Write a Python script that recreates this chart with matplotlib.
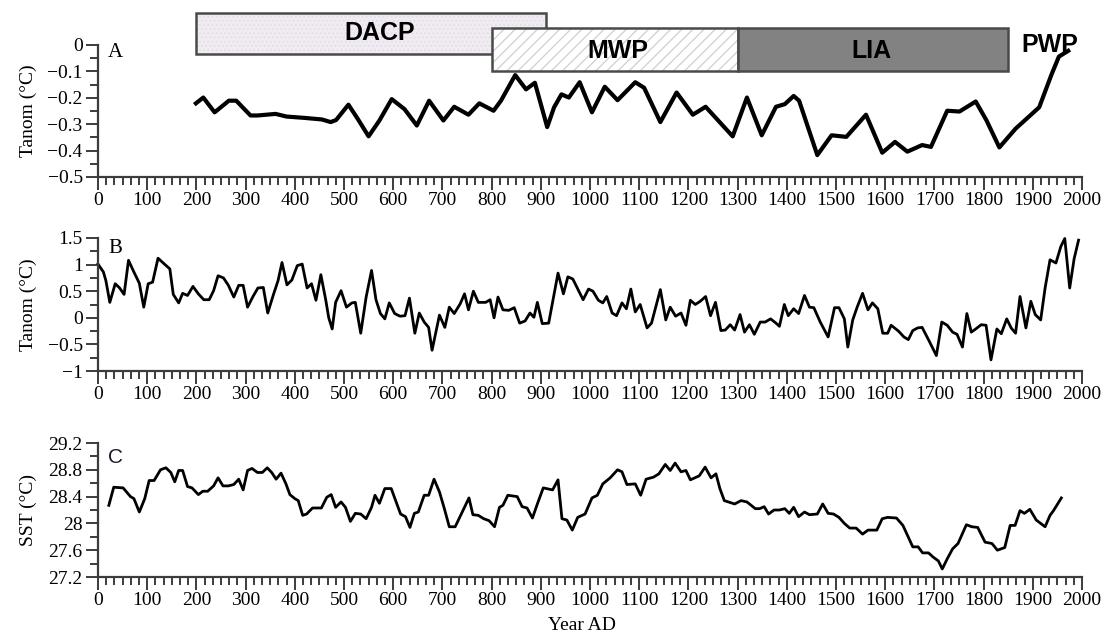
import matplotlib
matplotlib.use("Agg")
import matplotlib.pyplot as plt
from matplotlib.patches import Rectangle
from matplotlib.ticker import MultipleLocator, AutoMinorLocator

# ---------------- data ----------------
a_year = [199, 214, 237, 266, 281, 310, 324, 361, 383, 419, 455, 473, 484, 509, 528, 550,
          572, 597, 623, 648, 673, 702, 724, 753, 775, 804, 819, 848, 870, 888, 913, 927,
          942, 957, 979, 1004, 1030, 1056, 1092, 1110, 1143, 1176, 1209, 1235, 1290, 1319,
          1349, 1378, 1396, 1414, 1425, 1462, 1491, 1521, 1561, 1594, 1620, 1645, 1675,
          1693, 1726, 1751, 1784, 1806, 1832, 1865, 1913, 1938, 1953, 1972]
a_tanom = [-0.221, -0.199, -0.255, -0.211, -0.211, -0.267, -0.267, -0.261, -0.271, -0.276,
           -0.282, -0.292, -0.284, -0.226, -0.280, -0.346, -0.286, -0.205, -0.243, -0.305,
           -0.211, -0.286, -0.234, -0.264, -0.221, -0.249, -0.211, -0.114, -0.168, -0.143,
           -0.311, -0.236, -0.187, -0.199, -0.141, -0.255, -0.158, -0.209, -0.141, -0.162,
           -0.292, -0.180, -0.264, -0.234, -0.346, -0.199, -0.342, -0.234, -0.224, -0.193,
           -0.211, -0.417, -0.342, -0.348, -0.264, -0.408, -0.367, -0.404, -0.379, -0.386,
           -0.249, -0.252, -0.214, -0.286, -0.388, -0.317, -0.236, -0.112, -0.044, -0.022]

b_year = [0, 11, 16, 24, 35, 44, 53, 62, 73, 84, 93, 102, 111, 122, 135, 146, 153, 164, 172,
          182, 193, 204, 215, 226, 235, 244, 255, 265, 276, 286, 295, 304, 315, 325, 336, 345,
          356, 366, 374, 384, 394, 405, 415, 425, 434, 443, 453, 463, 469, 476, 483, 494, 505,
          516, 523, 534, 545, 556, 565, 574, 583, 592, 603, 614, 624, 633, 644, 653, 663, 672,
          679, 694, 705, 714, 724, 736, 745, 753, 763, 773, 788, 797, 805, 813, 823, 835, 846,
          857, 868, 878, 886, 893, 903, 916, 926, 935, 946, 955, 965, 986, 997, 1006, 1017,
          1026, 1034, 1045, 1054, 1065, 1074, 1083, 1092, 1102, 1116, 1125, 1143, 1154, 1163,
          1174, 1185, 1195, 1204, 1214, 1224, 1235, 1245, 1255, 1266, 1275, 1285, 1294, 1305,
          1314, 1324, 1334, 1346, 1356, 1367, 1378, 1385, 1395, 1403, 1414, 1424, 1436, 1446,
          1455, 1468, 1484, 1497, 1506, 1517, 1524, 1534, 1543, 1554, 1565, 1574, 1585, 1595,
          1605, 1612, 1627, 1638, 1647, 1656, 1666, 1675, 1689, 1704, 1715, 1726, 1737, 1746,
          1757, 1766, 1775, 1784, 1795, 1805, 1815, 1827, 1836, 1847, 1856, 1865, 1874, 1886,
          1896, 1905, 1916, 1925, 1935, 1947, 1957, 1965, 1975, 1984, 1993]
b_tanom = [1.01, 0.86, 0.70, 0.29, 0.64, 0.56, 0.44, 1.08, 0.86, 0.65, 0.20, 0.64, 0.67, 1.12,
           1.01, 0.92, 0.44, 0.28, 0.46, 0.42, 0.59, 0.45, 0.34, 0.34, 0.51, 0.79, 0.75, 0.61,
           0.39, 0.61, 0.61, 0.20, 0.40, 0.56, 0.57, 0.09, 0.42, 0.70, 1.04, 0.62, 0.71, 0.98,
           1.01, 0.56, 0.64, 0.33, 0.81, 0.33, 0.00, -0.21, 0.29, 0.51, 0.20, 0.28, 0.29,
           -0.29, 0.39, 0.89, 0.34, 0.08, -0.02, 0.28, 0.08, 0.03, 0.04, 0.37, -0.29, 0.09,
           -0.08, -0.18, -0.61, 0.05, -0.18, 0.20, 0.08, 0.26, 0.45, 0.15, 0.50, 0.29, 0.29,
           0.34, 0.00, 0.39, 0.15, 0.14, 0.19, -0.10, -0.06, 0.09, 0.01, 0.29, -0.11, -0.10,
           0.39, 0.84, 0.45, 0.77, 0.73, 0.34, 0.54, 0.50, 0.33, 0.28, 0.40, 0.09, 0.04, 0.28,
           0.17, 0.54, 0.11, 0.25, -0.19, -0.10, 0.53, -0.04, 0.20, 0.03, 0.09, -0.14, 0.33,
           0.25, 0.31, 0.40, 0.04, 0.29, -0.24, -0.23, -0.13, -0.23, 0.06, -0.27, -0.13, -0.31,
           -0.08, -0.08, -0.02, -0.10, -0.16, 0.25, 0.04, 0.17, 0.08, 0.42, 0.20, 0.19, -0.08,
           -0.36, 0.19, 0.19, -0.02, -0.55, -0.04, 0.20, 0.46, 0.15, 0.28, 0.17, -0.29, -0.29,
           -0.14, -0.25, -0.36, -0.41, -0.24, -0.19, -0.18, -0.43, -0.71, -0.08, -0.14, -0.27,
           -0.31, -0.55, 0.08, -0.27, -0.21, -0.13, -0.14, -0.79, -0.21, -0.30, -0.02, -0.19,
           -0.29, 0.40, -0.19, 0.31, 0.06, -0.04, 0.56, 1.09, 1.03, 1.34, 1.49, 0.56, 1.11, 1.46]

c_year = [22, 32, 51, 66, 73, 84, 95, 104, 114, 127, 138, 148, 156, 164, 172, 182, 191, 204,
          213, 223, 235, 244, 254, 265, 276, 286, 295, 304, 313, 324, 334, 344, 353, 362, 372,
          382, 390, 400, 407, 416, 424, 436, 454, 465, 474, 483, 494, 503, 513, 523, 534, 545,
          556, 563, 572, 583, 596, 605, 615, 625, 634, 643, 651, 663, 672, 683, 694, 704, 714,
          726, 737, 754, 762, 773, 784, 795, 806, 816, 823, 833, 852, 862, 872, 883, 893, 905,
          924, 935, 943, 953, 964, 975, 990, 1004, 1015, 1026, 1041, 1056, 1065, 1075, 1092,
          1103, 1114, 1129, 1140, 1153, 1163, 1173, 1185, 1195, 1204, 1222, 1234, 1246, 1256,
          1264, 1273, 1294, 1307, 1319, 1336, 1345, 1354, 1363, 1374, 1385, 1396, 1405, 1414,
          1424, 1436, 1446, 1462, 1473, 1484, 1495, 1506, 1517, 1528, 1541, 1554, 1565, 1583,
          1594, 1605, 1623, 1636, 1649, 1656, 1667, 1676, 1688, 1697, 1708, 1716, 1726, 1737,
          1748, 1765, 1776, 1788, 1803, 1817, 1828, 1843, 1854, 1864, 1874, 1883, 1894, 1907,
          1925, 1935, 1942, 1958]
c_sst = [28.27, 28.54, 28.53, 28.40, 28.37, 28.17, 28.37, 28.64, 28.64, 28.80, 28.83, 28.76,
         28.62, 28.79, 28.79, 28.55, 28.53, 28.43, 28.48, 28.48, 28.56, 28.68, 28.56, 28.56,
         28.58, 28.66, 28.50, 28.79, 28.82, 28.76, 28.76, 28.83, 28.76, 28.66, 28.75, 28.59,
         28.43, 28.37, 28.34, 28.12, 28.14, 28.23, 28.23, 28.39, 28.43, 28.24, 28.32, 28.24,
         28.03, 28.15, 28.14, 28.07, 28.24, 28.42, 28.30, 28.52, 28.52, 28.34, 28.14, 28.10,
         27.94, 28.15, 28.17, 28.42, 28.42, 28.66, 28.47, 28.22, 27.95, 27.95, 28.12, 28.38,
         28.13, 28.12, 28.07, 28.04, 27.95, 28.24, 28.27, 28.42, 28.40, 28.25, 28.23, 28.08,
         28.29, 28.53, 28.50, 28.65, 28.07, 28.05, 27.90, 28.09, 28.14, 28.38, 28.42, 28.59,
         28.68, 28.80, 28.77, 28.58, 28.59, 28.42, 28.66, 28.69, 28.74, 28.88, 28.79, 28.90,
         28.77, 28.79, 28.65, 28.71, 28.84, 28.68, 28.74, 28.52, 28.34, 28.29, 28.34, 28.32,
         28.22, 28.22, 28.25, 28.14, 28.20, 28.20, 28.22, 28.15, 28.24, 28.10, 28.17, 28.13,
         28.14, 28.29, 28.15, 28.14, 28.09, 28.00, 27.93, 27.93, 27.84, 27.90, 27.90, 28.07,
         28.09, 28.08, 27.97, 27.76, 27.65, 27.65, 27.56, 27.56, 27.50, 27.44, 27.32, 27.47,
         27.62, 27.70, 27.98, 27.95, 27.94, 27.72, 27.70, 27.60, 27.64, 27.97, 27.97, 28.19,
         28.15, 28.21, 28.05, 27.95, 28.12, 28.19, 28.38]

period_names = ["DACP", "MWP", "LIA"]
period_start = [200, 800, 1300]
period_end = [910, 1300, 1850]

x_ticks = list(range(0, 2001, 100))
a_ticks = [0, -0.1, -0.2, -0.3, -0.4, -0.5]
a_labels = ["0", "\u22120.1", "\u22120.2", "\u22120.3", "\u22120.4", "\u22120.5"]
b_ticks = [1.5, 1, 0.5, 0, -0.5, -1]
b_labels = ["1.5", "1", "0.5", "0", "\u22120.5", "\u22121"]
c_ticks = [29.2, 28.8, 28.4, 28.0, 27.6, 27.2]
c_labels = ["29.2", "28.8", "28.4", "28", "27.6", "27.2"]

# ---------------- figure ----------------
serif = "Liberation Serif"
sans = "Liberation Sans"
W, H = 1105, 637
fig = plt.figure(figsize=(W / 100, H / 100), dpi=100)
plt.rcParams["hatch.linewidth"] = 0.9

def ax_at(left, right, top, bottom):
    return fig.add_axes([left / W, 1 - bottom / H, (right - left) / W, (bottom - top) / H])

axA = ax_at(98, 1082, 45, 177)
axB = ax_at(98, 1082, 238, 371)
axC = ax_at(98, 1082, 443, 577)

spc = "#3c3c3c"
for ax, ticks, labels, ylab, minor in [
        (axA, a_ticks, a_labels, "Tanom (\u00b0C)", 0.05),
        (axB, b_ticks, b_labels, "Tanom (\u00b0C)", 0.25),
        (axC, c_ticks, c_labels, "SST (\u00b0C)", 0.2)]:
    ax.set_xlim(0, 2000)
    ax.set_ylim(min(ticks), max(ticks))
    ax.spines["top"].set_visible(False)
    ax.spines["right"].set_visible(False)
    for s in ("left", "bottom"):
        ax.spines[s].set_color(spc)
        ax.spines[s].set_linewidth(1.6)
    ax.set_xticks(x_ticks)
    ax.set_xticklabels([str(t) for t in x_ticks], fontfamily=serif, fontsize=14)
    ax.xaxis.set_minor_locator(AutoMinorLocator(6))
    ax.set_yticks(ticks)
    ax.set_yticklabels(labels, fontfamily=serif, fontsize=14)
    ax.yaxis.set_minor_locator(MultipleLocator(minor))
    ax.tick_params(axis="both", which="major", length=9, width=1.4, color=spc, pad=2)
    ax.tick_params(axis="both", which="minor", length=6, width=1.4, color=spc)
    ax.set_ylabel(ylab, fontfamily=serif, fontsize=14)
    ax.yaxis.set_label_coords(-0.062, 0.5)
    ax.patch.set_alpha(0)

# curves
axA.plot(a_year, a_tanom, color="black", lw=3.0, solid_joinstyle="round", clip_on=False)
axB.plot(b_year, b_tanom, color="black", lw=2.0, clip_on=False)
axC.plot(c_year, c_sst, color="black", lw=2.0, clip_on=False)

# period boxes (panel A)
box_y = [(-0.034, 0.121), (-0.098, 0.064), (-0.098, 0.064)]
box_face = ["#f1ecf2", "white", "#828282"]
box_hatch = ["....", "///", None]
box_hcol = ["#e6dde8", "#cfcfcf", None]
box_text_x = [573, 1057, 1573]
box_text_y = [0.044, -0.023, -0.023]
for i, (name, s, e, (y0, y1), fc, hc, hcol, tx, ty) in enumerate(zip(
        period_names, period_start, period_end, box_y, box_face, box_hatch, box_hcol,
        box_text_x, box_text_y)):
    z = 3 + i
    axA.add_patch(Rectangle((s, y0), e - s, y1 - y0, facecolor=fc, edgecolor="none",
                            clip_on=False, zorder=z))
    if hc:
        axA.add_patch(Rectangle((s, y0), e - s, y1 - y0, facecolor="none", edgecolor=hcol,
                                hatch=hc, lw=0, clip_on=False, zorder=z + 0.1))
    axA.add_patch(Rectangle((s, y0), e - s, y1 - y0, facecolor="none", edgecolor="#4a4a4a",
                            lw=1.8, clip_on=False, zorder=z + 0.2))
    axA.text(tx, ty, name, ha="center", va="center", fontfamily=sans, fontweight="bold",
             fontsize=18, color="black", zorder=10, clip_on=False)
axA.text(1935, 0.0, "PWP", ha="center", va="center", fontfamily=sans, fontweight="bold",
         fontsize=18, color="black", zorder=10, clip_on=False)

# panel letters
axA.text(35, -0.03, "A", fontfamily=serif, fontsize=15, ha="center", va="center")
axB.text(35, 1.3, "B", fontfamily=serif, fontsize=15, ha="center", va="center")
axC.text(35, 28.98, "C", fontfamily=sans, fontsize=15, ha="center", va="center", color="#1a1a2a")

fig.text(582 / W, 1 - 625 / H, "Year AD", fontfamily=serif, fontsize=14, ha="center", va="center")

fig.savefig("out.png", dpi=100)
